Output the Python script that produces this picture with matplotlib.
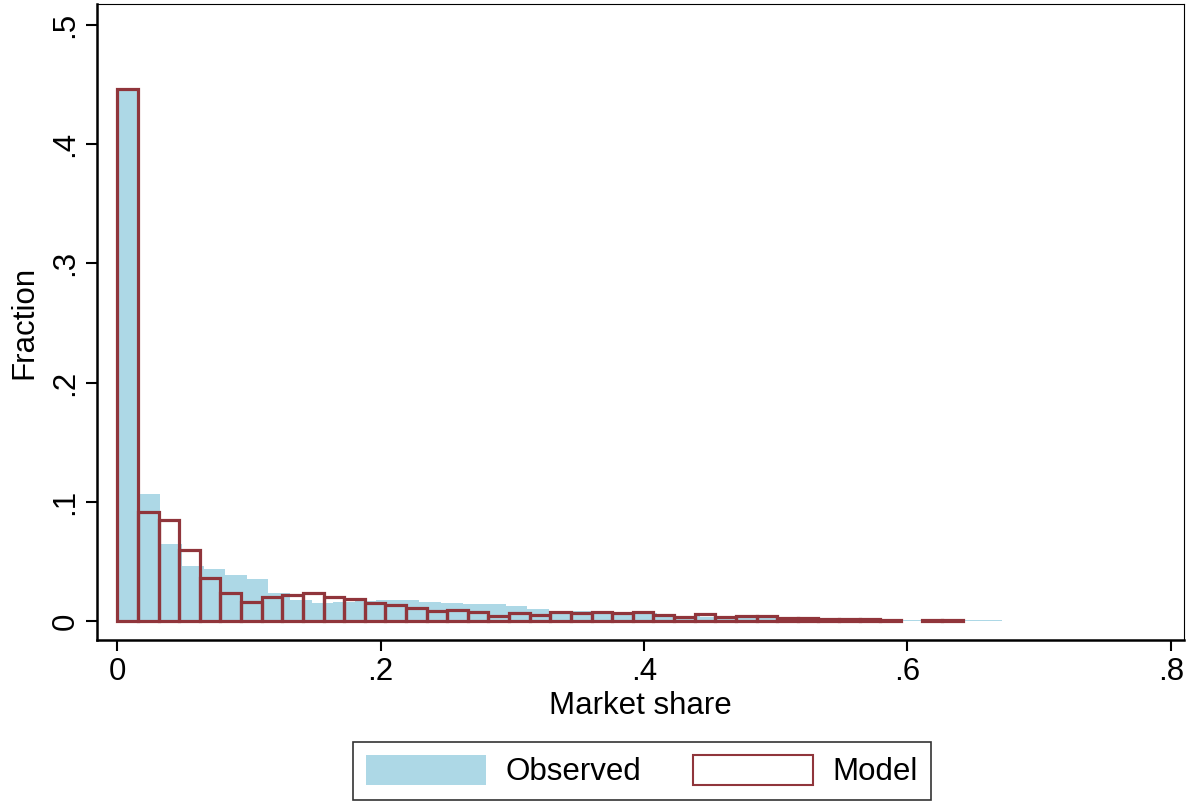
import numpy as np
import matplotlib
matplotlib.use("Agg")
import matplotlib.pyplot as plt
from matplotlib.patches import Patch

plt.rcParams['font.family'] = ['Liberation Sans', 'DejaVu Sans']

# histogram bins (41 each), start at 0
obs_width = 0.01639
model_width = 0.01566

observed = [0.445, 0.1067, 0.0647, 0.0465, 0.0437, 0.0387, 0.0353, 0.0235, 0.0176, 0.0154,
            0.0162, 0.0168, 0.0176, 0.0176, 0.0162, 0.0148, 0.0143, 0.0140, 0.0126, 0.0101,
            0.0084, 0.0084, 0.0075, 0.0070, 0.0065, 0.0045, 0.0040, 0.0035, 0.0035, 0.0030,
            0.0030, 0.0025, 0.0020, 0.0018, 0.0015, 0.0012, 0.0010, 0.0008, 0.0008, 0.0006,
            0.0006]

model = [0.446, 0.0918, 0.0843, 0.0597, 0.0364, 0.0233, 0.0162, 0.0199, 0.0216, 0.0238,
         0.0204, 0.0185, 0.0154, 0.0134, 0.0112, 0.0087, 0.0092, 0.0073, 0.0042, 0.0065,
         0.0050, 0.0076, 0.0065, 0.0073, 0.0065, 0.0073, 0.0048, 0.0036, 0.0056, 0.0036,
         0.0045, 0.0045, 0.0028, 0.0025, 0.0020, 0.0018, 0.0012, 0.0010, 0.0, 0.0008,
         0.0008]

x_ticks = [0, 0.2, 0.4, 0.6, 0.8]
x_ticklabels = ['0', '.2', '.4', '.6', '.8']
y_ticks = [0, 0.1, 0.2, 0.3, 0.4, 0.5]
y_ticklabels = ['0', '.1', '.2', '.3', '.4', '.5']

BLUE = '#ADD8E6'
RED = '#90353B'
FS = 22.5

fig = plt.figure(figsize=(11.88, 8.02), dpi=100)
ax = fig.add_axes([97 / 1188, 1 - 640 / 802, (1184 - 97) / 1188, (640 - 4) / 802])

obs_left = np.arange(len(observed)) * obs_width
ax.bar(obs_left, observed, width=obs_width, align='edge', color=BLUE,
       linewidth=0, zorder=2)

model = np.array(model)
model_left = np.arange(len(model)) * model_width
keep = model > 0
ax.bar(model_left[keep], model[keep], width=model_width, align='edge',
       facecolor='none', edgecolor=RED, linewidth=2.3, zorder=3)

ax.set_xlim(-0.0154, 0.810)
ax.set_ylim(-0.016, 0.5176)

ax.set_xticks(x_ticks)
ax.set_xticklabels(x_ticklabels, fontsize=FS)
ax.set_yticks(y_ticks)
ax.set_yticklabels(y_ticklabels, fontsize=FS, rotation=90, va='center')
ax.tick_params(axis='both', direction='out', length=8, width=1.5, pad=4)

ax.set_xlabel('Market share', fontsize=FS, labelpad=3)
ax.set_ylabel('Fraction', fontsize=FS, labelpad=8)

for side in ['left', 'bottom']:
    ax.spines[side].set_linewidth(1.8)
for side in ['top', 'right']:
    ax.spines[side].set_linewidth(0.8)

handles = [Patch(facecolor=BLUE, edgecolor='none', label='Observed'),
           Patch(facecolor='white', edgecolor=RED, linewidth=1.5, label='Model')]
leg = fig.legend(handles=handles, loc='center', bbox_to_anchor=(642 / 1188, 1 - 771 / 802),
                 ncol=2, fontsize=FS, frameon=True, fancybox=False,
                 handlelength=3.84, handleheight=1.12, handletextpad=0.64,
                 columnspacing=1.63, borderpad=0.4, borderaxespad=0)
leg.get_frame().set_edgecolor('black')
leg.get_frame().set_linewidth(1.2)

fig.savefig('out.png', dpi=100)
